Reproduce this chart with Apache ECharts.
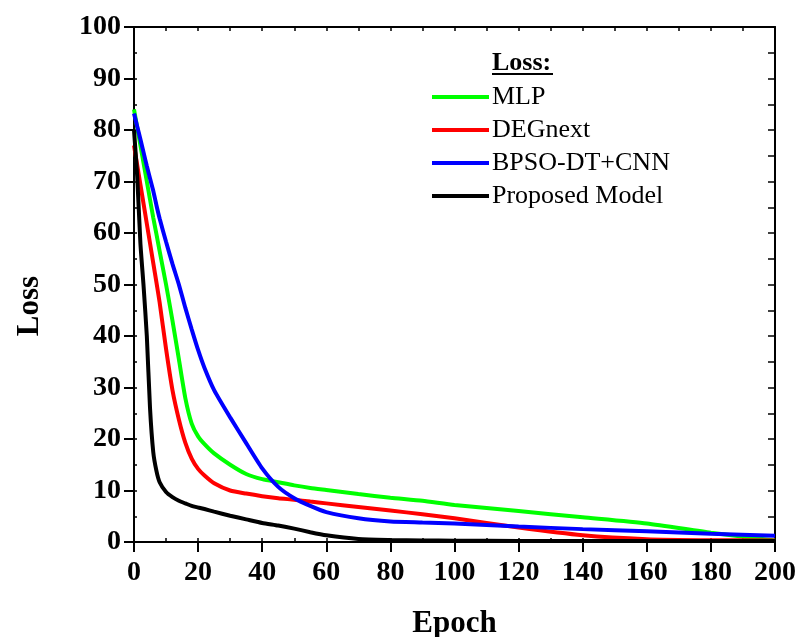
<!DOCTYPE html>
<html>
<head>
<meta charset="utf-8">
<script src="https://cdn.jsdelivr.net/npm/echarts@6/dist/echarts.min.js"></script>
<style>
  html, body { margin: 0; padding: 0; background: #fff; }
  #chart { width: 798px; height: 637px; }
</style>
</head>
<body>
<div id="chart"></div>
<script>
// epoch positions shared by every curve
const epochs = [0, 1, 2, 3, 4, 5, 6, 7, 8, 10, 12, 14, 16, 18, 20, 22, 25, 30, 35, 40, 45, 50, 55, 60, 70, 80, 90, 100, 120, 140, 160, 180, 200]

// loss values
const mlpLoss = [84, 80.5, 77, 73.5, 70, 66.5, 63, 59.8, 56.5, 50, 43, 35.5, 28, 23, 20.5, 19, 17.2, 15, 13.2, 12.2, 11.6, 11.0, 10.5, 10.1, 9.3, 8.6, 8.0, 7.2, 6.0, 4.8, 3.6, 1.8, 0.3]
const degnextLoss = [77, 73.2, 69.4, 65.6, 61.8, 58, 54.2, 50.4, 46.5, 37.5, 29.5, 23.8, 19.3, 16.2, 14.2, 12.9, 11.4, 10.0, 9.4, 8.9, 8.5, 8.2, 7.85, 7.5, 6.8, 6.1, 5.4, 4.6, 2.8, 1.3, 0.55, 0.35, 0.3]
const bpsoLoss = [83.2, 80.7, 78.2, 75.6, 73, 70.6, 68.2, 65.4, 62.8, 58.3, 54, 50, 45.5, 41.3, 37.3, 33.8, 29.5, 24.2, 19.2, 14.3, 10.7, 8.5, 7.0, 5.8, 4.6, 4.0, 3.8, 3.6, 3.0, 2.5, 2.1, 1.6, 1.2]
const proposedLoss = [80, 71, 58, 49.6, 40, 26, 17.5, 13.8, 11.6, 9.7, 8.7, 8.0, 7.5, 7.0, 6.7, 6.4, 5.9, 5.1, 4.4, 3.7, 3.2, 2.6, 1.9, 1.3, 0.6, 0.4, 0.3, 0.25, 0.2, 0.2, 0.2, 0.2, 0.2]

const seriesNames = ['MLP', 'DEGnext', 'BPSO-DT+CNN', 'Proposed Model']
const seriesColors = ['#00ff00', '#ff0000', '#0000ff', '#000000']
const seriesValues = [mlpLoss, degnextLoss, bpsoLoss, proposedLoss]

const FONT = 'Liberation Serif'

const chart = echarts.init(document.getElementById('chart'), null, { renderer: 'canvas' })

// frame axes: only ticks, no labels
const boxAxis = {
  axisLine: { show: true, onZero: false, lineStyle: { color: '#000', width: 2 } },
  axisLabel: { show: false },
  splitLine: { show: false },
  name: '',
}

const option = {
  backgroundColor: '#fff',
  animation: false,
  grid: { left: 134, right: 23, top: 27, bottom: 95, containLabel: false, outerBoundsMode: 'none' },
  legend: {
    data: seriesNames.map(n => ({ name: n, icon: 'rect' })),
    orient: 'vertical',
    left: 432,
    top: 84,
    padding: 0,
    itemWidth: 57,
    itemHeight: 4,
    itemGap: 7,
    textStyle: { fontFamily: FONT, fontSize: 26, color: '#000', padding: [0, 0, 0, -2] },
  },
  graphic: [
    {
      type: 'text',
      left: 492,
      top: 50,
      style: { text: 'Loss:', font: 'bold 26px "Liberation Serif"', fill: '#000' },
    },
    {
      type: 'line',
      shape: { x1: 492, y1: 74, x2: 553, y2: 74 },
      style: { stroke: '#000', lineWidth: 2 },
    },
    {
      type: 'text',
      x: 30,
      y: 306,
      rotation: Math.PI / 2,
      style: {
        text: 'Loss',
        font: 'bold 31px "Liberation Serif"',
        fill: '#000',
        align: 'center',
        verticalAlign: 'middle',
      },
    },
  ],
  xAxis: [
    {
      type: 'value',
      min: 0,
      max: 200,
      interval: 20,
      position: 'bottom',
      name: 'Epoch',
      nameLocation: 'middle',
      nameGap: 66,
      nameTextStyle: { fontFamily: FONT, fontSize: 31, fontWeight: 'bold', color: '#000' },
      axisLine: { show: true, onZero: false, lineStyle: { color: '#000', width: 2 } },
      axisTick: { show: true, inside: false, length: 10, lineStyle: { color: '#000', width: 2 } },
      axisLabel: { fontFamily: FONT, fontSize: 28, fontWeight: 'bold', color: '#000', margin: 17 },
      splitLine: { show: false },
    },
    Object.assign({}, boxAxis, {
      type: 'value', min: 0, max: 200, interval: 10, position: 'bottom',
      axisTick: { show: true, inside: true, length: 4, lineStyle: { color: '#000', width: 1.5 } },
    }),
    Object.assign({}, boxAxis, {
      type: 'value', min: 0, max: 200, interval: 10, position: 'top',
      axisTick: { show: true, inside: true, length: 4, lineStyle: { color: '#000', width: 1.5 } },
    }),
  ],
  yAxis: [
    {
      type: 'value',
      min: 0,
      max: 100,
      interval: 10,
      position: 'left',
      axisLine: { show: true, onZero: false, lineStyle: { color: '#000', width: 2 } },
      axisTick: { show: true, inside: false, length: 10, lineStyle: { color: '#000', width: 2 } },
      axisLabel: { fontFamily: FONT, fontSize: 28, fontWeight: 'bold', color: '#000', margin: 13 },
      splitLine: { show: false },
    },
    Object.assign({}, boxAxis, {
      type: 'value', min: 0, max: 100, interval: 5, position: 'left',
      axisTick: { show: true, inside: true, length: 3, lineStyle: { color: '#000', width: 1.5 } },
    }),
    Object.assign({}, boxAxis, {
      type: 'value', min: 0, max: 100, interval: 5, position: 'right',
      axisTick: { show: true, inside: true, length: 7, lineStyle: { color: '#000', width: 1.5 } },
    }),
  ],
  series: seriesNames.map((name, k) => ({
    name: name,
    type: 'line',
    xAxisIndex: 0,
    yAxisIndex: 0,
    data: epochs.map((e, i) => [e, seriesValues[k][i]]),
    showSymbol: false,
    symbol: 'none',
    smooth: 0.2,
    itemStyle: { color: seriesColors[k] },
    lineStyle: { color: seriesColors[k], width: 4 },
  })),
}

chart.setOption(option)
</script>
</body>
</html>
